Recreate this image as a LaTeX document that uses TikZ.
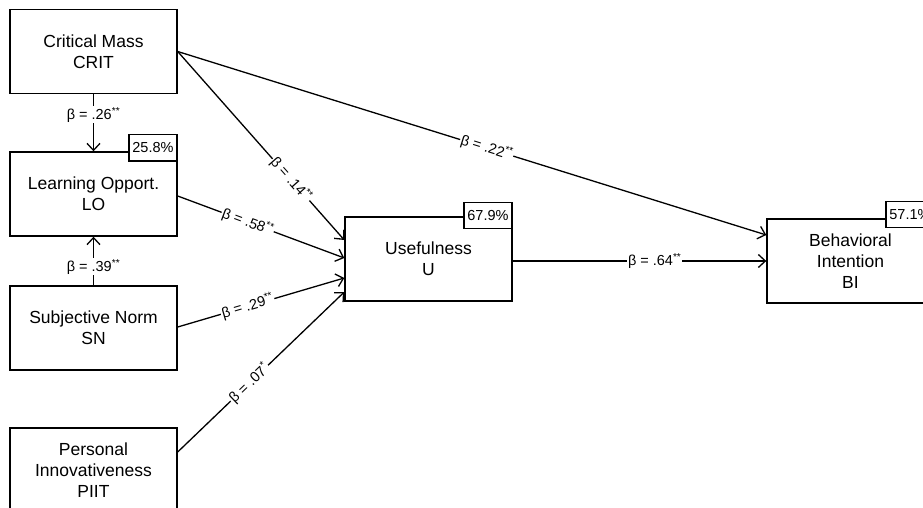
\documentclass[tikz,border=0pt]{standalone}
\usepackage{fontspec}
\setmainfont{Liberation Sans}
\usetikzlibrary{arrows.meta}
\begin{document}
\begin{tikzpicture}[x=1pt,y=-1pt,
  construct/.style={draw, line width=1.4pt, fill=white, minimum width=167pt,
    minimum height=84pt, align=center, inner sep=2pt,
    font=\fontsize{17.5}{21}\selectfont},
  rsq/.style={draw, line width=1.4pt, fill=white, inner xsep=3.5pt, inner ysep=0pt,
    minimum height=26pt, anchor=east, font=\fontsize{14.5}{16}\selectfont},
  effect/.style={line width=1.3pt,
    -{Straight Barb[length=7pt,width=13pt,line width=1.3pt]}},
  coef/.style={fill=white, inner sep=1pt, font=\fontsize{14.5}{16}\selectfont},
]
\clip (0,0) rectangle (923,508);

% constructs
\node[construct] (CRIT) at (93.5,51.5) {Critical Mass\\CRIT};
\node[construct] (LO)   at (93.5,194)  {Learning Opport.\\LO};
\node[construct] (SN)   at (93.5,328)  {Subjective Norm\\SN};
\node[construct] (PIIT) at (93.5,470)  {Personal\\Innovativeness\\PIIT};
\node[construct] (U)    at (428.5,259) {Usefulness\\U};
\node[construct] (BI)   at (850.5,261) {Behavioral\\Intention\\BI};

% explained variance
\node[rsq] (rLO) at ([yshift=3.5pt]LO.north east) {25.8\%};
\node[rsq] (rU)  at ([yshift=1pt]U.north east)    {67.9\%};
\node[rsq] (rBI) at ([yshift=4pt]BI.north east)   {57.1\%};

% paths
\draw[effect] (CRIT) -- node[coef, pos=0.36] {β = .26\textsuperscript{**}} (LO);
\draw[effect] (SN) -- node[coef, pos=0.38] {β = .39\textsuperscript{**}} (LO);
\draw[effect] (CRIT.east) -- node[coef, sloped, pos=0.68] {β = .14\textsuperscript{**}} ([yshift=19pt]U.west);
\draw[effect] (CRIT.east) -- node[coef, sloped, pos=0.525] {β = .22\textsuperscript{**}} ([yshift=26pt]BI.west);
\draw[effect] ([yshift=-2pt]LO.east) -- node[coef, sloped, pos=0.42] {β = .58\textsuperscript{**}} ([yshift=1pt]U.west);
\draw[effect] ([yshift=1pt]SN.east) -- node[coef, sloped, pos=0.42] {β = .29\textsuperscript{**}} ([yshift=-19pt]U.west);
\draw[effect] ([yshift=18pt]PIIT.east) -- node[coef, sloped, pos=0.43] {β = .07\textsuperscript{*}} ([yshift=-33pt]U.west);
\draw[effect] ([yshift=-2pt]U.east) -- node[coef, pos=0.56] {β = .64\textsuperscript{**}} ([yshift=-2pt]U.east -| BI.west);
\end{tikzpicture}
\end{document}
